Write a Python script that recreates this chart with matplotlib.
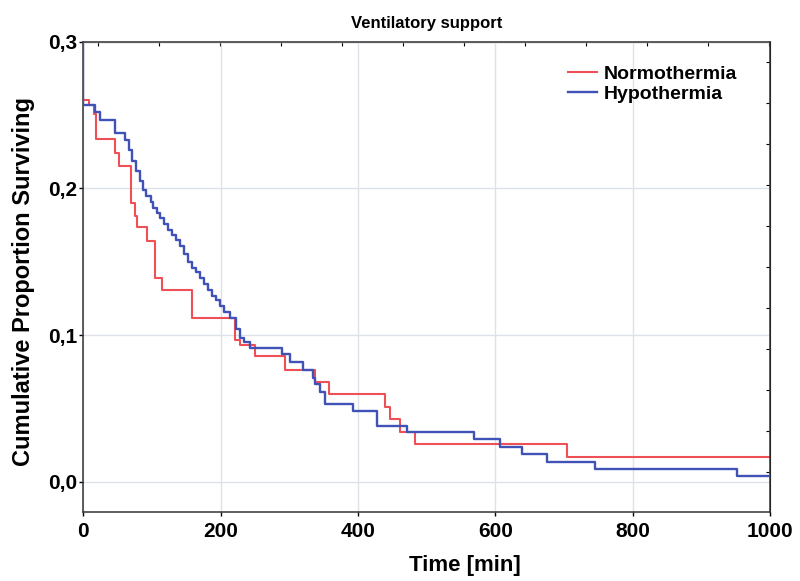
import numpy as np
import matplotlib.pyplot as plt
from matplotlib.ticker import FuncFormatter

# Kaplan-Meier style steps (time in min, proportion)
normo_t = [0, 0, 9, 15, 19, 47, 52, 69, 76, 79, 93, 105, 115, 159, 221, 228,
           250, 294, 338, 358, 440, 447, 461, 483, 705, 1000]
normo_s = [0.3, 0.26, 0.257, 0.251, 0.234, 0.224, 0.215, 0.19, 0.181, 0.174,
           0.164, 0.139, 0.131, 0.112, 0.097, 0.093, 0.086, 0.076, 0.068,
           0.060, 0.051, 0.043, 0.034, 0.026, 0.017, 0.017]

hypo_t = [0, 0, 17.5, 25, 47, 61, 66, 71, 77, 83, 87, 92, 98, 102, 108, 112,
          118, 124, 130, 135, 141, 147, 153, 159, 164, 170, 176, 182, 188,
          194, 199, 205, 214, 223, 229, 234, 243, 290, 301, 320, 335, 338,
          345, 352, 393, 428, 472, 569, 607, 639, 675, 745, 952, 1000]
hypo_s = [0.3, 0.257, 0.252, 0.247, 0.238, 0.233, 0.226, 0.219, 0.212, 0.205,
          0.199, 0.195, 0.191, 0.187, 0.183, 0.180, 0.176, 0.172, 0.168,
          0.165, 0.161, 0.155, 0.150, 0.146, 0.143, 0.139, 0.135, 0.131,
          0.127, 0.124, 0.120, 0.116, 0.112, 0.104, 0.098, 0.095, 0.091,
          0.087, 0.082, 0.076, 0.071, 0.067, 0.061, 0.053, 0.048, 0.038,
          0.034, 0.029, 0.024, 0.019, 0.0136, 0.009, 0.004, 0.004]

x_ticks = [0, 200, 400, 600, 800, 1000]
y_ticks = [0.0, 0.1, 0.2, 0.3]

plt.rcParams["font.family"] = ["Liberation Sans", "DejaVu Sans"]
plt.rcParams["font.weight"] = "bold"

fig = plt.figure(figsize=(8, 5.81), dpi=100)
ax = fig.add_axes([0.104, 0.119, 0.8585, 0.809])

ax.step(hypo_t, hypo_s, where="post", color="#4052b5", lw=1.7,
        label="Hypothermia", zorder=3)
ax.step(normo_t, normo_s, where="post", color="#ee5055", lw=1.5,
        label="Normothermia", zorder=2)

ax.set_xlim(0, 1000)
ax.set_ylim(-0.0205, 0.3)
ax.set_xticks(x_ticks)
ax.set_yticks(y_ticks)
ax.yaxis.set_major_formatter(FuncFormatter(lambda v, p: f"{v:.1f}".replace(".", ",")))
ax.tick_params(axis="both", labelsize=15, length=3, width=1, direction="out")
ax.tick_params(axis="x", pad=4)
ax.tick_params(axis="y", pad=1.5)
for lab in ax.get_xticklabels() + ax.get_yticklabels():
    lab.set_fontweight("bold")
ax.grid(True, color="#dde2e8", lw=1)
ax.set_axisbelow(True)
for sp in ax.spines.values():
    sp.set_linewidth(1.1)
    sp.set_color("#333333")

# leftover tick marks on top and right frame
top = ax.secondary_xaxis("top")
top.set_xticks(np.arange(21.8, 1000, 88.8))
top.tick_params(direction="in", length=3, labeltop=False)
right = ax.secondary_yaxis("right")
right.set_yticks(0.2863 - np.arange(0, 11) * 0.02795)
right.tick_params(direction="in", length=3, labelright=False)

ax.set_title("Ventilatory support", fontsize=12, fontweight="bold", pad=10)
ax.set_xlabel("Time [min]", fontsize=16, fontweight="bold")
ax.xaxis.set_label_coords(0.556, -0.092)
ax.set_ylabel("Cumulative Proportion Surviving", fontsize=17, fontweight="bold")
ax.yaxis.set_label_coords(-0.07, 0.49)

handles, labels = ax.get_legend_handles_labels()
leg = ax.legend(handles[::-1], labels[::-1], loc="upper right",
                bbox_to_anchor=(0.977, 0.987), frameon=False, fontsize=14,
                handlelength=1.5, handletextpad=0.3, labelspacing=0.1)
for t in leg.get_texts():
    t.set_fontweight("bold")

fig.savefig("out.png", dpi=100)
